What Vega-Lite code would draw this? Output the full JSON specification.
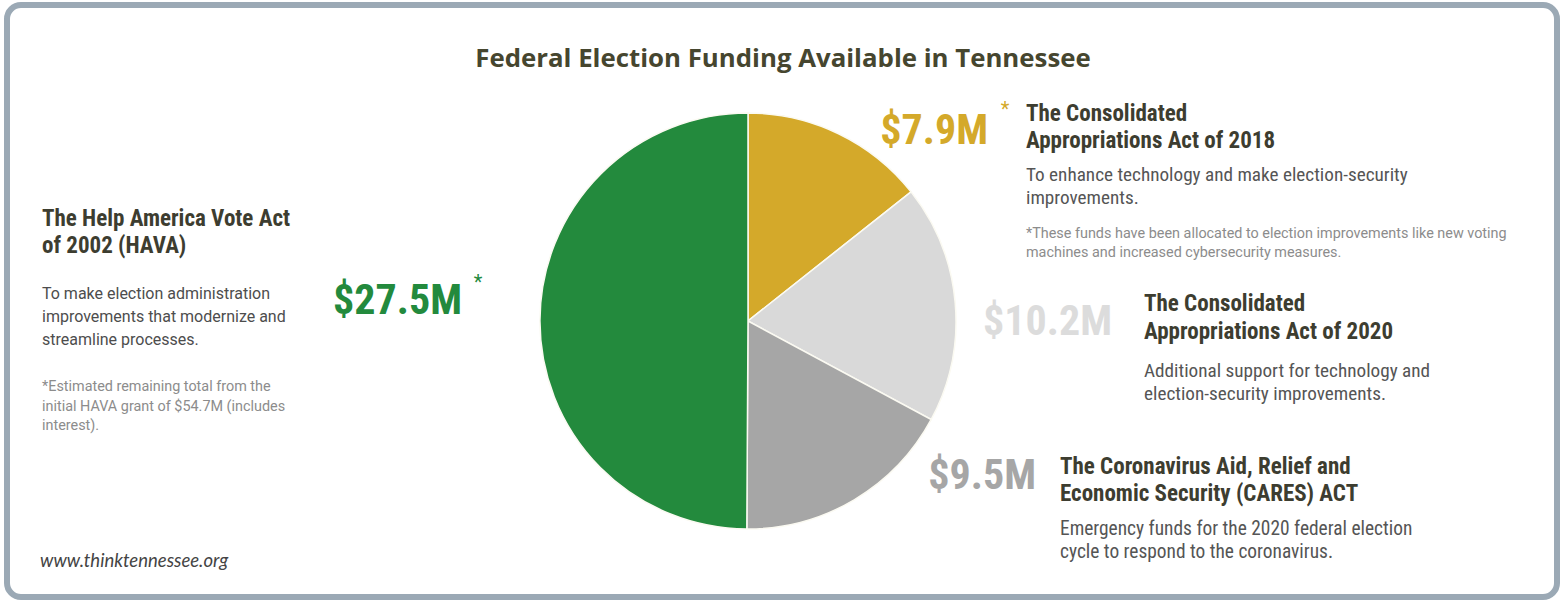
{
  "$schema": "https://vega.github.io/schema/vega-lite/v6.json",
  "autosize": "none",
  "width": 1550,
  "height": 592,
  "padding": {"left": 7, "right": 7, "top": 5, "bottom": 6},
  "background": "white",
  "config": {
    "view": {"stroke": "#9ba9b5", "strokeWidth": 6, "cornerRadius": 14},
    "text": {"font": "Roboto", "align": "left", "baseline": "alphabetic"}
  },
  "data": {
    "values": [
      {"act": "Consolidated Appropriations Act of 2018", "amount": 7.9, "label": "$7.9M", "order": 1},
      {"act": "Consolidated Appropriations Act of 2020", "amount": 10.2, "label": "$10.2M", "order": 2},
      {"act": "CARES Act", "amount": 9.5, "label": "$9.5M", "order": 3},
      {"act": "Help America Vote Act (HAVA)", "amount": 27.5, "label": "$27.5M", "order": 4}
    ]
  },
  "layer": [
    {
      "mark": {"type": "arc", "outerRadius": 208, "stroke": "#fbfaf2", "strokeWidth": 1.5},
      "encoding": {
        "theta": {"field": "amount", "type": "quantitative", "stack": true},
        "order": {"field": "order", "type": "quantitative"},
        "color": {
          "field": "act",
          "type": "nominal",
          "legend": null,
          "scale": {
            "domain": ["Consolidated Appropriations Act of 2018", "Consolidated Appropriations Act of 2020", "CARES Act", "Help America Vote Act (HAVA)"],
            "range": ["#d4a92a", "#d9d9d9", "#a6a6a6", "#238a3d"]
          }
        },
        "x": {"value": 741},
        "y": {"value": 316}
      }
    },
    {
      "transform": [{"filter": "datum.order == 1"}],
      "mark": {"type": "text", "font": "Roboto Condensed", "fontWeight": "bold", "fontSize": 42, "align": "right", "x": 981, "y": 139, "color": "#d4a92a"},
      "encoding": {"text": {"field": "label"}}
    },
    {
      "transform": [{"filter": "datum.order == 2"}],
      "mark": {"type": "text", "font": "Roboto Condensed", "fontWeight": "bold", "fontSize": 42, "align": "right", "x": 1105, "y": 330, "color": "#dcdcdc"},
      "encoding": {"text": {"field": "label"}}
    },
    {
      "transform": [{"filter": "datum.order == 3"}],
      "mark": {"type": "text", "font": "Roboto Condensed", "fontWeight": "bold", "fontSize": 42, "align": "right", "x": 1029, "y": 484, "color": "#a6a6a6"},
      "encoding": {"text": {"field": "label"}}
    },
    {
      "transform": [{"filter": "datum.order == 4"}],
      "mark": {"type": "text", "font": "Roboto Condensed", "fontWeight": "bold", "fontSize": 42, "align": "right", "x": 455, "y": 309, "color": "#238a3d"},
      "encoding": {"text": {"field": "label"}}
    },
    {
      "data": {"values": [{}]},
      "mark": {"type": "text", "text": "*", "fontSize": 20, "align": "center", "x": 998, "y": 111, "color": "#d4a92a"},
      "encoding": {}
    },
    {
      "data": {"values": [{}]},
      "mark": {"type": "text", "text": "*", "fontSize": 20, "align": "center", "x": 471, "y": 284, "color": "#238a3d"},
      "encoding": {}
    },
    {
      "data": {"values": [{}]},
      "mark": {"type": "text", "text": "Federal Election Funding Available in Tennessee", "font": "Open Sans", "fontWeight": "bold", "fontSize": 25.8, "align": "center", "x": 776, "y": 62, "color": "#46462f"},
      "encoding": {}
    },
    {
      "data": {"values": [{}]},
      "mark": {"type": "text", "text": ["The Help America Vote Act", "of 2002 (HAVA)"], "font": "Roboto Condensed", "fontWeight": "bold", "fontSize": 23, "lineHeight": 27, "x": 35, "y": 221, "color": "#3d3d30"},
      "encoding": {}
    },
    {
      "data": {"values": [{}]},
      "mark": {"type": "text", "text": ["To make election administration", "improvements that modernize and", "streamline processes."], "fontSize": 16, "lineHeight": 23, "x": 35, "y": 294, "color": "#4d4d4d"},
      "encoding": {}
    },
    {
      "data": {"values": [{}]},
      "mark": {"type": "text", "text": ["*Estimated remaining total from the", "initial HAVA grant of $54.7M (includes", "interest)."], "fontSize": 14.4, "lineHeight": 19.5, "x": 35, "y": 386, "color": "#8c8c8c"},
      "encoding": {}
    },
    {
      "data": {"values": [{}]},
      "mark": {"type": "text", "text": ["The Consolidated", "Appropriations Act of 2018"], "font": "Roboto Condensed", "fontWeight": "bold", "fontSize": 23, "lineHeight": 27, "x": 1019, "y": 116, "color": "#3d3d30"},
      "encoding": {}
    },
    {
      "data": {"values": [{}]},
      "mark": {"type": "text", "text": ["To enhance technology and make election-security", "improvements."], "font": "Roboto Condensed", "fontSize": 19.2, "lineHeight": 23, "x": 1019, "y": 176, "color": "#555555"},
      "encoding": {}
    },
    {
      "data": {"values": [{}]},
      "mark": {"type": "text", "text": ["*These funds have been allocated to election improvements like new voting", "machines and increased cybersecurity measures."], "fontSize": 14.4, "lineHeight": 19, "x": 1019, "y": 233, "color": "#8c8c8c"},
      "encoding": {}
    },
    {
      "data": {"values": [{}]},
      "mark": {"type": "text", "text": ["The Consolidated", "Appropriations Act of 2020"], "font": "Roboto Condensed", "fontWeight": "bold", "fontSize": 23, "lineHeight": 28, "x": 1137, "y": 306, "color": "#3d3d30"},
      "encoding": {}
    },
    {
      "data": {"values": [{}]},
      "mark": {"type": "text", "text": ["Additional support for technology and", "election-security improvements."], "font": "Roboto Condensed", "fontSize": 19.2, "lineHeight": 23, "x": 1137, "y": 372, "color": "#555555"},
      "encoding": {}
    },
    {
      "data": {"values": [{}]},
      "mark": {"type": "text", "text": ["The Coronavirus Aid, Relief and", "Economic Security (CARES) ACT"], "font": "Roboto Condensed", "fontWeight": "bold", "fontSize": 23, "lineHeight": 27, "x": 1053, "y": 469, "color": "#3d3d30"},
      "encoding": {}
    },
    {
      "data": {"values": [{}]},
      "mark": {"type": "text", "text": ["Emergency funds for the 2020 federal election", "cycle to respond to the coronavirus."], "font": "Roboto Condensed", "fontSize": 19.4, "lineHeight": 23, "x": 1053, "y": 530, "color": "#555555"},
      "encoding": {}
    },
    {
      "data": {"values": [{}]},
      "mark": {"type": "text", "text": "www.thinktennessee.org", "font": "Lato", "fontStyle": "italic", "fontSize": 18.5, "x": 33, "y": 562, "color": "#444444"},
      "encoding": {}
    }
  ]
}
